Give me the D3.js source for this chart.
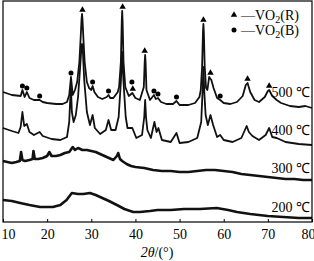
<!DOCTYPE html>
<html>
<head>
<meta charset="utf-8">
<script src="https://cdn.jsdelivr.net/npm/d3@7"></script>
<style>
  body { margin: 0; background: #fff; }
  text { font-family: "Liberation Serif", "Times New Roman", serif; fill: #000; }
</style>
</head>
<body>
<div id="chart"></div>
<script>
// 2theta (deg) and intensity (a.u.)
const xrd_500 = [
  [10,130],[12,127],[14,126],[14.4,132],[14.9,125],[15.4,130],[16,124],[17,122],[18.3,122],[19,120],
  [20,119],[22,118],[23.5,118],[24.5,120],[25.0,127],[25.4,145],[25.8,127],[26.3,132],[26.8,140],
  [27.3,160],[27.6,185],[27.8,203],[27.9,208],[28.0,203],[28.2,185],[28.5,160],[29,140],[29.5,134],
  [30.0,132],[30.3,136],[30.7,130],[31.5,125],[32.5,123],[33.5,125],[33.9,127],[34.3,124],[35,124],
  [36,130],[36.3,135],[36.7,160],[36.9,200],[37.0,211],[37.1,200],[37.3,160],[37.7,135],[38.5,126],
  [39.3,129],[40,124],[41,122],[41.9,135],[42.1,160],[42.2,167],[42.3,160],[42.5,132],[43.3,122],
  [44.2,127],[44.6,123],[45.1,124],[45.8,120],[47,118],[48.5,118],[49.3,121],[50,117],[52,117],
  [53.5,119],[54.5,125],[54.8,132],[55.1,155],[55.3,190],[55.4,198],[55.5,190],[55.7,155],[56.0,134],
  [56.3,132],[56.7,145],[57.2,142],[57.7,134],[58.5,124],[59.2,122],[60,119],[61.5,118],[63,120],
  [64.3,126],[65.0,137],[65.4,139],[66,130],[67,122],[68,120],[69.3,125],[70.0,131],[70.3,132],
  [71,126],[72,122],[73,119],[75,116],[77,115],[78.5,116],[80,114]
];
const xrd_400 = [
  [10,94],[12,91],[13.5,89],[14.0,95],[14.4,110],[14.8,96],[15.4,98],[16,90],[17,87],[18.3,90],
  [19,86],[21,83],[23,82],[24.5,85],[25.0,100],[25.3,130],[25.4,134],[25.6,110],[26.0,100],[26.5,107],
  [27.0,125],[27.4,150],[27.7,170],[27.9,178],[28.1,170],[28.4,142],[29,110],[29.7,97],[30.3,107],
  [30.8,94],[32,88],[33.3,92],[33.9,102],[34.5,92],[35.5,92],[36.2,105],[36.7,140],[37.0,170],
  [37.3,140],[37.8,105],[38.2,94],[39.3,94],[40.2,84],[41.5,87],[42.0,105],[42.2,122],[42.4,105],
  [42.7,92],[43.5,84],[44.3,100],[44.8,90],[45.2,94],[46,82],[48,80],[49.3,89],[50,79],[52,80],
  [54,84],[54.9,100],[55.2,130],[55.4,155],[55.6,130],[55.9,107],[56.4,97],[57.0,107],[57.6,97],
  [58.5,85],[59.2,87],[60,82],[62,80],[64,84],[64.8,92],[65.2,96],[65.7,90],[66.5,86],[68,82],
  [69.5,87],[70.3,94],[71,85],[72,84],[74,80],[77,78],[80,77]
];
const xrd_300 = [
  [10,61],[11,60],[12,59],[13,60],[13.8,61],[14.1,70],[14.4,62],[15,61],[16,62],[16.7,63],[16.9,71],
  [17.2,63],[18,63],[19,64],[20,66],[20.5,70],[21,66],[22,66],[23,67],[24,69],[25,70],[25.8,75],
  [26.3,72],[27,74],[28,72],[29,72],[30,71],[31,70],[32,68],[33,66],[34,64],[35,62],[35.8,66],
  [36.1,69],[36.5,63],[37,61],[38,58],[39,56],[40,55],[42,54],[44,52],[46,51],[48,51],[50,50],
  [52,50],[54,51],[56,52],[58,52],[60,51],[62,50],[64,48],[66,47],[68,46],[70,45],[72,44],[74,43],
  [76,43],[78,42],[80,42]
];
const xrd_200 = [
  [10,22],[12,21],[13.9,19],[16,17],[18.4,15],[21.3,15],[23,17],[24.4,22],[25.6,29],[27,28],
  [28.2,28],[29.7,29],[31,27],[32,25],[34,21],[35.8,17],[37.5,13],[39.5,10],[41,10],[43.3,11],
  [45,12],[48,12],[51,13],[54.6,13],[58.4,14],[61,12],[63,10],[66,8],[70,6],[73.5,5],[77,4],[80,4]
];
const temps = ["500 ℃", "400 ℃", "300 ℃", "200 ℃"];
const label_levels = [125, 87, 49, 10];

// phase markers [2theta, intensity]
const marks_R = [[28.0,212],[37.1,215],[42.1,171],[39.4,133],[55.4,202],[57.0,149],[65.4,143],[70.3,136]];
const marks_B = [[14.4,136],[15.4,134],[18.3,126],[25.4,149],[30.3,140],[33.9,131],[39.2,140],
                 [44.2,131],[45.1,128],[49.3,125],[59.2,126]];
const x_ticks = [10, 20, 30, 40, 50, 60, 70, 80];

const width = 314;
const height = 261;
const m_left = 3, m_right = 312, m_top = 1, m_bottom = 222;

const svg = d3.select('#chart')
    .append('svg')
    .attr("width", width)
    .attr("height", height);

const x = d3.scaleLinear().domain([10, 80]).range([m_left, m_right]);
const y = d3.scaleLinear().domain([0, 221]).range([m_bottom, m_top]);

const line = d3.line()
    .x(d => x(d[0]))
    .y(d => y(d[1]));

const series = [
    { data: xrd_500, w: 1.8 },
    { data: xrd_400, w: 1.8 },
    { data: xrd_300, w: 2.6 },
    { data: xrd_200, w: 2.6 }
];

svg.selectAll(".trace")
    .data(series)
    .enter()
    .append("path")
    .attr("class", "trace")
    .attr("d", s => line(s.data))
    .attr("fill", "none")
    .attr("stroke", "#111")
    .attr("stroke-width", s => s.w)
    .attr("stroke-linejoin", "round");

// markers
const tri = d3.symbol().type(d3.symbolTriangle).size(18);
svg.selectAll(".mR")
    .data(marks_R)
    .enter()
    .append("path")
    .attr("class", "mR")
    .attr("d", tri)
    .attr("transform", d => "translate(" + x(d[0]) + "," + y(d[1]) + ")")
    .attr("fill", "#000");

svg.selectAll(".mB")
    .data(marks_B)
    .enter()
    .append("circle")
    .attr("class", "mB")
    .attr("cx", d => x(d[0]))
    .attr("cy", d => y(d[1]))
    .attr("r", 2.5)
    .attr("fill", "#000");

// temperature labels
svg.selectAll(".temp")
    .data(temps)
    .enter()
    .append("text")
    .attr("class", "temp")
    .attr("x", 310)
    .attr("y", (d, i) => y(label_levels[i]))
    .attr("text-anchor", "end")
    .attr("font-size", 14)
    .text(d => d);

// legend
const legend = svg.append("g");
legend.append("path")
    .attr("d", tri)
    .attr("transform", "translate(234,15)");
legend.append("circle")
    .attr("cx", 234).attr("cy", 30).attr("r", 2.5);
const legend_items = [["R", 20], ["B", 35]];
legend_items.forEach(([p, ty]) => {
    const t = legend.append("text").attr("x", 241).attr("y", ty).attr("font-size", 14);
    t.append("tspan").text("—VO");
    t.append("tspan").attr("font-size", 10).attr("dy", 3).text("2");
    t.append("tspan").attr("dy", -3).text("(" + p + ")");
});

// frame
svg.append("rect")
    .attr("x", m_left).attr("y", m_top)
    .attr("width", m_right - m_left).attr("height", m_bottom - m_top)
    .attr("fill", "none")
    .attr("stroke", "#000")
    .attr("stroke-width", 1.2);

// x axis, ticks inward
const ax = svg.append("g")
    .attr("transform", "translate(0," + m_bottom + ")")
    .call(d3.axisBottom(x).tickValues(x_ticks).tickSizeInner(-3).tickSizeOuter(0).tickPadding(7.5));
ax.select(".domain").remove();
ax.selectAll("line").attr("stroke", "#000");
ax.selectAll("text")
    .attr("font-size", 14)
    .attr("font-family", "Liberation Serif, serif")
    .attr("dx", d => d == 10 ? 5 : (d == 80 ? -4 : 0));

const title = svg.append("text")
    .attr("x", 157)
    .attr("y", 257)
    .attr("text-anchor", "middle")
    .attr("font-size", 14);
title.append("tspan").attr("font-style", "italic").text("2θ");
title.append("tspan").text("/(°)");
</script>
</body>
</html>
